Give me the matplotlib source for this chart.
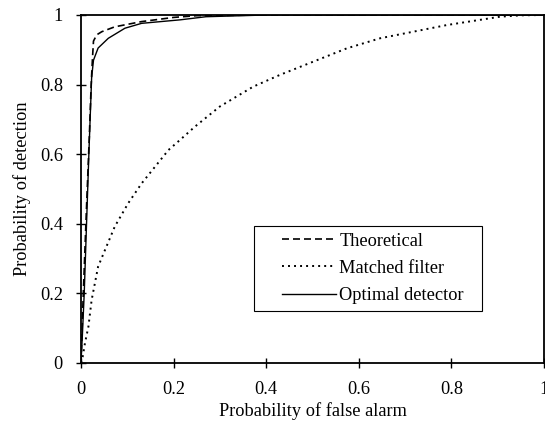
import matplotlib
matplotlib.use("Agg")
import matplotlib.pyplot as plt
import numpy as np
from matplotlib.legend_handler import HandlerLine2D

# values
theoX = [0, 0.005, 0.012, 0.018, 0.022, 0.025, 0.027, 0.034, 0.045, 0.073, 0.131, 0.2, 0.25, 0.4, 0.6, 0.8, 1.0]
theoY = [0, 0.2, 0.45, 0.65, 0.8, 0.88, 0.925, 0.943, 0.952, 0.966, 0.981, 0.993, 0.998, 1, 1, 1, 1]

matchedX = [0, 0.004, 0.0086, 0.016, 0.023, 0.037, 0.052, 0.073, 0.102, 0.131, 0.16, 0.189, 0.214,
            0.246, 0.30, 0.372, 0.43, 0.502, 0.574, 0.646, 0.718, 0.79, 0.862, 0.905, 0.95, 1.0]
matchedY = [0, 0.02, 0.057, 0.104, 0.181, 0.277, 0.325, 0.392, 0.459, 0.516, 0.564, 0.612, 0.641,
            0.679, 0.737, 0.794, 0.828, 0.866, 0.904, 0.933, 0.952, 0.971, 0.986, 0.995, 0.999, 1.0]

optX = [0, 0.003, 0.007, 0.012, 0.017, 0.023, 0.027, 0.037, 0.059, 0.095, 0.131, 0.214, 0.27, 0.4, 0.6, 0.8, 1.0]
optY = [0, 0.08, 0.2, 0.4, 0.6, 0.82, 0.87, 0.905, 0.933, 0.962, 0.976, 0.986, 0.995, 1, 1, 1, 1]

ticks = [0, 0.2, 0.4, 0.6, 0.8, 1]
tickLabels = ["0", "0.2", "0.4", "0.6", "0.8", "1"]


class PaddedLine(HandlerLine2D):
    # legend sample line that starts a bit right of the frame edge
    def get_xdata(self, legend, xdescent, ydescent, width, height, fontsize):
        x = np.array([-xdescent + width * 0.28, -xdescent + width])
        return x, x


plt.rcParams['font.family'] = ['Liberation Serif', 'DejaVu Serif']
plt.rcParams['font.size'] = 13.2

fig = plt.figure(figsize=(5.45, 4.28), dpi=100)
ax = fig.add_axes([0.1486, 0.152, 0.8494, 0.813])

ax.plot(theoX, theoY, label="Theoretical", color='k', linewidth=1.2, linestyle=(0, (4.2, 2.4)))
ax.plot(matchedX, matchedY, label="Matched filter", color='k', linewidth=1.4, linestyle=(0, (1, 2.1)))
ax.plot(optX, optY, label="Optimal detector", color='k', linewidth=1.0)

ax.set_xlim(0, 1)
ax.set_ylim(0, 1)
ax.set_xticks(ticks)
ax.set_xticklabels(tickLabels)
ax.set_yticks(ticks)
ax.set_yticklabels(tickLabels)
ax.tick_params(direction='inout', length=7, width=1, pad=9.5)
for s in ax.spines.values():
    s.set_linewidth(1.3)

ax.set_xlabel("Probability of false alarm", labelpad=3)
ax.set_ylabel("Probability of detection", labelpad=6)

leg = ax.legend(loc='upper left', bbox_to_anchor=(0.3737, 0.15, 0.4924, 0.2437), mode='expand',
                fancybox=False, framealpha=1, edgecolor='k', handlelength=4.1, handletextpad=0.2,
                labelspacing=0.56, borderpad=0.36, borderaxespad=0,
                handler_map={matplotlib.lines.Line2D: PaddedLine()})
leg.get_frame().set_linewidth(0.8)

fig.savefig("out.png", dpi=100)
